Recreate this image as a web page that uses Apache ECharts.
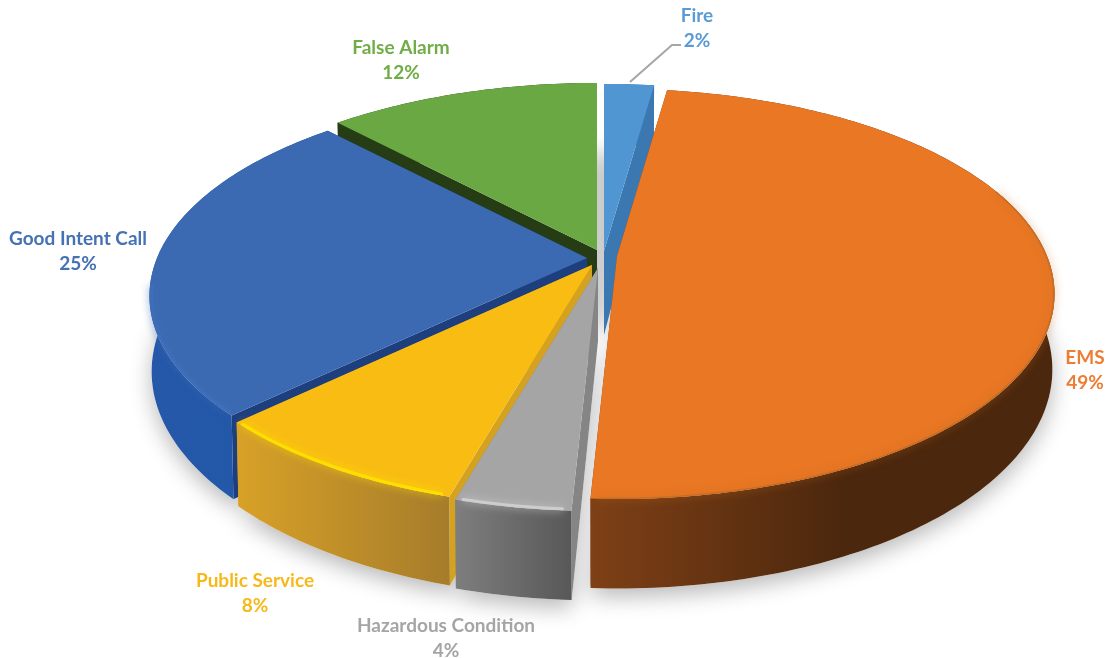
<!DOCTYPE html>
<html>
<head>
<meta charset="utf-8">
<style>
  html, body { margin: 0; padding: 0; background: #fff; }
  #chart { width: 1105px; height: 658px; }
</style>
<script src="https://cdn.jsdelivr.net/npm/echarts@6/dist/echarts.min.js"></script>
</head>
<body>
<div id="chart"></div>
<script>
// clockwise from 12 o'clock (labels show them rounded)
var categories = ['Fire', 'EMS', 'Hazardous Condition', 'Public Service', 'Good Intent Call', 'False Alarm'];
var shares = [2.2, 48.6, 3.6, 8.4, 25.2, 12];

// look of each slice, same order as categories
var slices = [
  { apex: [604, 251], tip: 84, top: '#4f96d3', cut: '#3b78b1', wall: ['#3b78b1', '#3b78b1'], rim: null, text: '#5b9bd5', label: [697, 28] },
  { apex: [617, 256], tip: 73, top: '#e97724', cut: '#7b3f15', wall: ['#7e4016', '#4b270d'], rim: '#c96d24', text: '#ed7d31', label: [1085, 370] },
  { apex: [598, 268], tip: 73, top: '#a5a5a5', cut: '#858585', wall: ['#7e7e7e', '#585858'], rim: '#cdcdcd', text: '#a5a5a5', label: [446, 638] },
  { apex: [592, 265], tip: 73, top: '#f9bc13', cut: '#d5a220', wall: ['#d8a127', '#a67c2b'], rim: '#ffdf00', text: '#f7b81a', label: [255, 593] },
  { apex: [587, 258], tip: 73, top: '#3c6ab2', cut: '#1e3f7d', wall: ['#2558a8', '#2156a6'], rim: '#3f6eb8', text: '#4472b4', label: [78, 251] },
  { apex: [597, 250], tip: 73, top: '#69a842', cut: '#253c14', wall: ['#253c14', '#253c14'], rim: null, text: '#70ad47', label: [401, 60] }
];

// projection of the tilted disc
var RX = 430, RY = 198, PERSP = 0.185, DEPTH = 73, BOTTOM_SCALE = 0.995;
var FONT = 'Lato, "Open Sans", sans-serif';

var total = shares.reduce(function (a, b) { return a + b; }, 0);
var starts = [];
shares.reduce(function (acc, v, i) { starts[i] = acc; return acc + v; }, 0);

function project(deg, r, apex) {
  var t = deg * Math.PI / 180;
  var u = Math.sin(t) * r, v = Math.cos(t) * r;
  var s = 1 / (1 + PERSP * v);
  return { x: apex[0] + RX * u * s, y: apex[1] - RY * v * s, s: s };
}
function topPt(deg, r, apex) {
  var p = project(deg, r, apex);
  return [p.x, p.y];
}
function bottomPt(deg, r, apex) {
  var p = project(deg, r, apex);
  return [apex[0] + (p.x - apex[0]) * BOTTOM_SCALE, p.y + DEPTH * p.s];
}
function arc(fn, a0, a1, r, apex) {
  var pts = [];
  var n = Math.max(2, Math.ceil(Math.abs(a1 - a0)));
  for (var i = 0; i <= n; i++) pts.push(fn(a0 + (a1 - a0) * i / n, r, apex));
  return pts;
}

function renderSlice(params, api) {
  var i = params.dataIndex;
  var share = api.value(0);
  var a0 = starts[i] / total * 360;
  var a1 = a0 + share / total * 360;
  var mid = (a0 + a1) / 2;
  var sl = slices[i];
  var apex = sl.apex;
  // far slices first
  var z = 10 + Math.round((1 - Math.cos(mid * Math.PI / 180)) * 20) * 10;
  var topArc = arc(topPt, a0, a1, 1, apex);
  var botArc = arc(bottomPt, a0, a1, 1, apex);
  var apexBot = [apex[0], apex[1] + sl.tip];
  var children = [];

  // ground shadow
  children.push({
    type: 'polygon', z2: 1,
    shape: { points: [apexBot].concat(botArc) },
    style: { fill: '#fff', shadowColor: 'rgba(0,0,0,0.28)', shadowBlur: 22, shadowOffsetY: 8 }
  });

  var cuts = [[topArc[0], apex, apexBot, botArc[0]],
    [topArc[topArc.length - 1], apex, apexBot, botArc[botArc.length - 1]]];
  cuts.forEach(function (pts) {
    children.push({ type: 'polygon', z2: z, shape: { points: pts }, style: { fill: sl.cut } });
  });

  children.push({
    type: 'polygon', z2: z + 1,
    shape: { points: topArc.concat(botArc.slice().reverse()) },
    style: {
      fill: {
        type: 'linear', x: 0, y: 0, x2: 1, y2: 0,
        colorStops: i === 1
          ? [{ offset: 0, color: sl.wall[0] }, { offset: 0.55, color: sl.wall[1] }, { offset: 1, color: sl.wall[1] }]
          : [{ offset: 0, color: sl.wall[0] }, { offset: 1, color: sl.wall[1] }]
      }
    }
  });

  children.push({
    type: 'polygon', z2: z + 2,
    shape: { points: [apex].concat(topArc) },
    style: { fill: sl.top }
  });

  // bevel along the front rim only, soft and right on the edge
  if (sl.rim) {
    var from = i === 1 ? 70 : a0 + 1;
    var to = i === 4 ? 262 : a1 - 0.8;
    var inset = i === 1 ? 0.998 : 0.995;
    children.push({
      type: 'polyline', z2: z + 3,
      shape: { points: arc(topPt, from, to, inset, apex) },
      style: {
        fill: null, stroke: sl.rim, lineWidth: i === 1 ? 1.5 : 3, lineCap: 'round',
        shadowColor: sl.rim, shadowBlur: 8
      }
    });
  }

  // label and, for Fire, its leader
  children.push({
    type: 'text', z2: 500,
    style: {
      x: sl.label[0], y: sl.label[1],
      text: categories[i] + '\n' + Math.round(share) + '%',
      fill: sl.text, font: 'bold 19px ' + FONT, lineHeight: 25,
      align: 'center', verticalAlign: 'middle'
    }
  });
  if (i === 0) {
    children.push({
      type: 'polyline', z2: 500,
      shape: { points: [[630, 82], [672, 45], [681, 45]] },
      style: { fill: null, stroke: '#a6a6a6', lineWidth: 2 }
    });
  }
  return { type: 'group', children: children };
}

var chart = echarts.init(document.getElementById('chart'));
chart.setOption({
  backgroundColor: '#fff',
  animation: false,
  series: [{
    type: 'custom',
    coordinateSystem: 'none',
    renderItem: renderSlice,
    data: shares.map(function (v, i) { return { name: categories[i], value: [v] }; })
  }]
});
</script>
</body>
</html>
